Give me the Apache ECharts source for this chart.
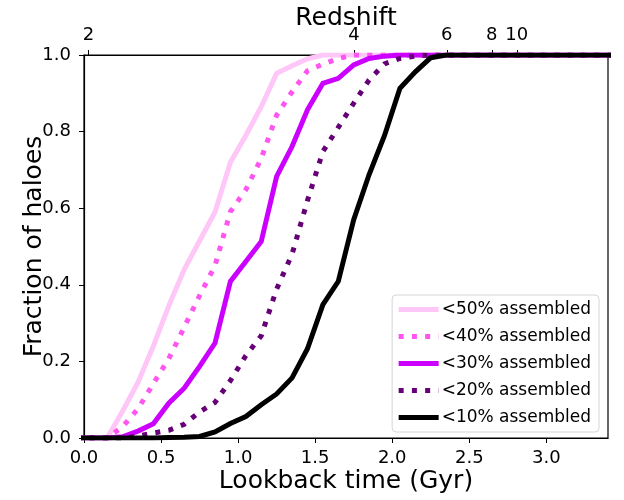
<!DOCTYPE html>
<html>
<head>
<meta charset="utf-8">
<script src="https://cdn.jsdelivr.net/npm/echarts@6/dist/echarts.min.js"></script>
<style>
  html, body { margin: 0; padding: 0; background: #fff; }
  #chart { width: 624px; height: 500px; }
</style>
</head>
<body>
<div id="chart"></div>
<script>
// Lookback time bin centres (Gyr)
const lookback = [-0.05, 0.05, 0.15, 0.25, 0.35, 0.45, 0.55, 0.65, 0.75, 0.85, 0.95,
  1.05, 1.15, 1.25, 1.35, 1.45, 1.55, 1.65, 1.75, 1.85, 1.95, 2.05, 2.15, 2.25, 2.35,
  2.45, 2.55, 2.65, 2.75, 2.85, 2.95, 3.05, 3.15, 3.25, 3.35, 3.45];

// Cumulative fraction of haloes below each assembly threshold
const frac50 = [0, 0, 0, 0.07, 0.145, 0.24, 0.345, 0.44, 0.515, 0.59, 0.72,
  0.79, 0.865, 0.952, 0.972, 0.99, 1, 1, 1, 1, 1, 1, 1, 1, 1,
  1, 1, 1, 1, 1, 1, 1, 1, 1, 1, 1];
const frac40 = [0, 0, 0, 0.029, 0.076, 0.142, 0.207, 0.289, 0.372, 0.45, 0.591,
  0.648, 0.73, 0.843, 0.904, 0.959, 0.976, 0.991, 1, 1, 1, 1, 1, 1, 1,
  1, 1, 1, 1, 1, 1, 1, 1, 1, 1, 1];
const frac30 = [0, 0, 0, 0.003, 0.018, 0.037, 0.091, 0.13, 0.187, 0.248, 0.409,
  0.461, 0.513, 0.683, 0.761, 0.857, 0.926, 0.939, 0.974, 0.991, 0.997, 1, 1, 1, 1,
  1, 1, 1, 1, 1, 1, 1, 1, 1, 1, 1];
const frac20 = [0, 0, 0, 0, 0.005, 0.013, 0.02, 0.036, 0.068, 0.093, 0.15,
  0.215, 0.267, 0.389, 0.48, 0.62, 0.748, 0.811, 0.874, 0.935, 0.977, 0.991, 0.997, 1, 1,
  1, 1, 1, 1, 1, 1, 1, 1, 1, 1, 1];
const frac10 = [0, 0, 0, 0, 0, 0, 0.001, 0.002, 0.004, 0.016, 0.038,
  0.056, 0.087, 0.115, 0.157, 0.233, 0.348, 0.409, 0.57, 0.688, 0.79, 0.913, 0.956, 0.993, 1,
  1, 1, 1, 1, 1, 1, 1, 1, 1, 1, 1];

const seriesNames = ['<50% assembled', '<40% assembled', '<30% assembled', '<20% assembled', '<10% assembled'];

// Bottom axis ticks (Gyr)
const lookbackTicks = [0, 0.5, 1.0, 1.5, 2.0, 2.5, 3.0];
// Top axis: redshift labels and the lookback time where each sits
const redshiftLabels = ['2', '4', '6', '8', '10'];
const redshiftAt = [0.029, 1.751, 2.354, 2.646, 2.808];

const FONT = 'DejaVu Sans';
const TICK_SIZE = 18;
const TITLE_SIZE = 25;
const DOT = [5, 8.25];
const styles = [
  { color: '#ffc6f8', type: 'solid' },
  { color: '#ff55f0', type: DOT },
  { color: '#cc00ff', type: 'solid' },
  { color: '#660077', type: DOT },
  { color: '#000000', type: 'solid' }
];
const dataSets = [frac50, frac40, frac30, frac20, frac10];

const lineStyleOf = i => ({ color: styles[i].color, width: 5, type: styles[i].type, cap: 'butt', join: 'miter' });

const series = dataSets.map((vals, i) => ({
  name: seriesNames[i],
  type: 'line',
  xAxisIndex: 0,
  yAxisIndex: 0,
  data: lookback.map((t, k) => [t, vals[k]]),
  symbol: 'none',
  showSymbol: false,
  clip: true,
  z: 2 + i,
  lineStyle: lineStyleOf(i),
  itemStyle: { color: styles[i].color }
}));

const chart = echarts.init(document.getElementById('chart'), null, { renderer: 'canvas' });
chart.setOption({
  animation: false,
  backgroundColor: '#ffffff',
  textStyle: { fontFamily: FONT },
  grid: {
    left: 84, right: 16, top: 55, bottom: 62,
    outerBoundsMode: 'none',
    containLabel: false,
    show: true, borderColor: '#000', borderWidth: 1.2, backgroundColor: 'transparent'
  },
  legend: {
    right: 25, top: 295,
    orient: 'vertical',
    backgroundColor: '#fff',
    borderColor: '#d6d6d6', borderWidth: 1, borderRadius: 4,
    padding: [6, 8, 6, 4],
    itemWidth: 40, itemHeight: 14, itemGap: 10,
    itemStyle: { opacity: 0 },
    textStyle: { fontFamily: FONT, fontSize: 17, color: '#000', padding: [0, 0, 0, -2] },
    data: seriesNames.map((n, i) => ({ name: n, lineStyle: lineStyleOf(i), itemStyle: { opacity: 0 } }))
  },
  xAxis: [
    {
      type: 'value', position: 'bottom', min: 0, max: 3.4,
      name: 'Lookback time (Gyr)', nameLocation: 'middle', nameGap: 31, nameMoveOverlap: false,
      nameTextStyle: { fontFamily: FONT, fontSize: TITLE_SIZE, color: '#000' },
      axisLine: { show: true, onZero: false, lineStyle: { color: '#000', width: 1.2 } },
      axisTick: { show: true, length: 5, inside: false, customValues: lookbackTicks, lineStyle: { color: '#000' } },
      axisLabel: { customValues: lookbackTicks, margin: 11, fontSize: TICK_SIZE, color: '#000', fontFamily: FONT,
        formatter: v => v.toFixed(1) },
      splitLine: { show: false }
    },
    {
      type: 'value', position: 'top', min: 0, max: 3.4,
      name: 'Redshift', nameLocation: 'middle', nameGap: 24, nameMoveOverlap: false,
      nameTextStyle: { fontFamily: FONT, fontSize: TITLE_SIZE, color: '#000' },
      axisLine: { show: true, onZero: false, lineStyle: { color: '#000', width: 1.2 } },
      axisTick: { show: true, length: 5, inside: false, customValues: redshiftAt, lineStyle: { color: '#000' } },
      axisLabel: { customValues: redshiftAt, margin: 11, fontSize: TICK_SIZE, color: '#000', fontFamily: FONT,
        formatter: v => {
          const k = redshiftAt.findIndex(r => Math.abs(r - v) < 1e-6);
          return k >= 0 ? redshiftLabels[k] : '';
        } },
      splitLine: { show: false }
    }
  ],
  yAxis: {
    type: 'value', min: 0, max: 1, interval: 0.2,
    name: 'Fraction of haloes', nameLocation: 'middle', nameGap: 37, nameRotate: 90, nameMoveOverlap: false,
    nameTextStyle: { fontFamily: FONT, fontSize: TITLE_SIZE, color: '#000' },
    axisLine: { show: true, lineStyle: { color: '#000', width: 1.2 } },
    axisTick: { show: true, length: 5, inside: false, lineStyle: { color: '#000' } },
    axisLabel: { margin: 13, fontSize: TICK_SIZE, color: '#000', fontFamily: FONT, formatter: v => v.toFixed(1) },
    splitLine: { show: false }
  },
  series: series
});
</script>
</body>
</html>
